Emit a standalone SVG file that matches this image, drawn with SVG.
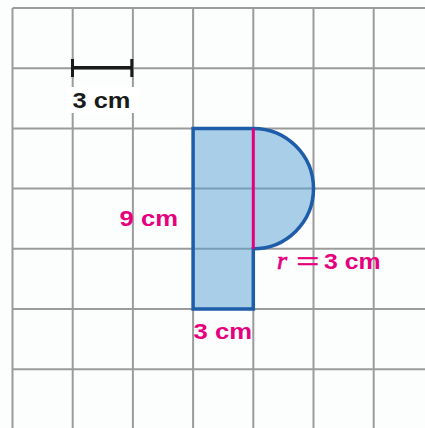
<svg xmlns="http://www.w3.org/2000/svg" width="425" height="428" viewBox="0 0 425 428">
  <style>
    .grid line { stroke: #9b9b9b; stroke-width: 2; }
    .lbl { font-family: "Liberation Sans", Arial, sans-serif; font-weight: bold; font-size: 22px; }
    .pink { fill: #e6007e; }
  </style>
  <rect width="425" height="428" fill="#fcfdfd"/>
  <g id="grid" class="grid">
    <line x1="12.5" y1="8" x2="425" y2="8"/>
    <line x1="12.5" y1="68.2" x2="425" y2="68.2"/>
    <line x1="12.5" y1="128.4" x2="425" y2="128.4"/>
    <line x1="12.5" y1="188.6" x2="425" y2="188.6"/>
    <line x1="12.5" y1="248.8" x2="425" y2="248.8"/>
    <line x1="12.5" y1="309" x2="425" y2="309"/>
    <line x1="12.5" y1="369.2" x2="425" y2="369.2"/>
    <line x1="12.5" y1="8" x2="12.5" y2="428"/>
    <line x1="72.7" y1="8" x2="72.7" y2="428"/>
    <line x1="132.9" y1="8" x2="132.9" y2="428"/>
    <line x1="193.1" y1="8" x2="193.1" y2="428"/>
    <line x1="253.3" y1="8" x2="253.3" y2="428"/>
    <line x1="313.5" y1="8" x2="313.5" y2="428"/>
    <line x1="373.7" y1="8" x2="373.7" y2="428"/>
  </g>
  <g id="scale">
    <line x1="72.5" y1="67.8" x2="131.8" y2="67.8" stroke="#1a1a1a" stroke-width="3.5"/>
    <line x1="72.5" y1="59" x2="72.5" y2="77" stroke="#1a1a1a" stroke-width="3"/>
    <line x1="131.8" y1="59" x2="131.8" y2="77" stroke="#1a1a1a" stroke-width="3"/>
    <rect x="67" y="87" width="72" height="26" fill="#ffffff"/>
    <text class="lbl" x="72.5" y="107.5" fill="#1a1a1a" textLength="58" lengthAdjust="spacingAndGlyphs">3 cm</text>
  </g>
  <g id="shape">
    <path d="M193.1,128.4 H253.3 A60.2,60.2 0 0 1 253.3,248.8 V309 H193.1 Z" fill="#559fd1" fill-opacity="0.5" stroke="none"/>
    <path d="M193.1,128.4 H253.3 A60.2,60.2 0 0 1 253.3,248.8 V309 H193.1 Z" fill="none" stroke="#1e5da9" stroke-width="3.5" stroke-linejoin="miter"/>
    <line x1="253.3" y1="128.4" x2="253.3" y2="248.8" stroke="#e6007e" stroke-width="3"/>
  </g>
  <g id="labels">
    <text class="lbl pink" x="119.5" y="226" textLength="58.5" lengthAdjust="spacingAndGlyphs">9 cm</text>
    <text class="lbl pink" x="193.5" y="338.5" textLength="58.5" lengthAdjust="spacingAndGlyphs">3 cm</text>
    <text class="pink" x="277" y="268.5" font-family="'Liberation Serif', 'Times New Roman', serif" font-style="italic" font-size="26px" stroke="#e6007e" stroke-width="0.7">r</text>
    <text class="pink" x="296.5" y="268.5" font-family="'Liberation Sans', Arial, sans-serif" font-size="24px" stroke="#e6007e" stroke-width="0.6" textLength="22.5" lengthAdjust="spacingAndGlyphs">=</text>
    <text class="lbl pink" x="324" y="268.5" textLength="56.5" lengthAdjust="spacingAndGlyphs">3 cm</text>
  </g>
</svg>
